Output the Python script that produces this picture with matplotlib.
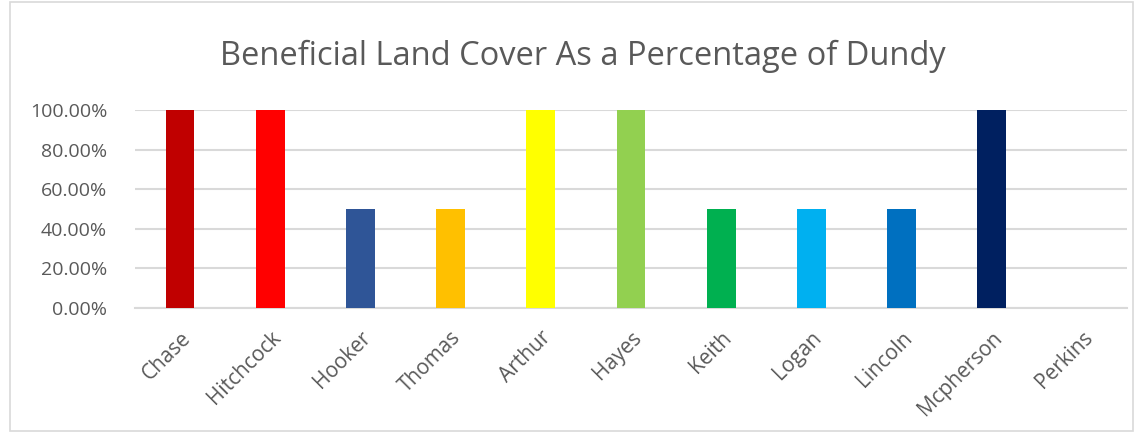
import matplotlib.pyplot as plt
from matplotlib.patches import Rectangle
from matplotlib.ticker import FuncFormatter

# Data
counties = ['Chase', 'Hitchcock', 'Hooker', 'Thomas', 'Arthur', 'Hayes',
            'Keith', 'Logan', 'Lincoln', 'Mcpherson', 'Perkins']
share = [1.0, 1.0, 0.5, 0.5, 1.0, 1.0, 0.5, 0.5, 0.5, 1.0, 0.0]
bar_colors = ['#C00000', '#FF0000', '#2F5597', '#FFC000', '#FFFF00', '#92D050',
              '#00B050', '#00B0F0', '#0070C0', '#002060', '#7F7F7F']

TEXT = '#595959'
GRID = '#D9D9D9'

plt.rcParams['font.family'] = ['Open Sans', 'DejaVu Sans']

fig = plt.figure(figsize=(11.43, 4.33), dpi=100)
ax = fig.add_axes([0.118, 0.289, 0.868, 0.457])

x = range(len(counties))
ax.bar(x, share, width=0.32, color=bar_colors, zorder=3)

ax.set_xlim(-0.5, len(counties) - 0.5)
ax.set_ylim(0, 1.0)
ax.set_yticks([0, 0.2, 0.4, 0.6, 0.8, 1.0])
ax.yaxis.set_major_formatter(FuncFormatter(lambda v, _: f'{v * 100:.2f}%'))
ax.grid(axis='y', color=GRID, linewidth=1.5, zorder=0)
ax.set_axisbelow(True)

ax.set_xticks(list(x))
ax.set_xticklabels(counties, rotation=45, ha='right', rotation_mode='anchor')
ax.tick_params(axis='both', length=0, labelcolor=TEXT)
ax.tick_params(axis='x', pad=14, labelsize=15)
ax.tick_params(axis='y', pad=20, labelsize=14)

for s in ['top', 'right', 'left']:
    ax.spines[s].set_visible(False)
ax.spines['bottom'].set_color(GRID)
ax.spines['bottom'].set_linewidth(1.5)

fig.text(0.51, 0.87, 'Beneficial Land Cover As a Percentage of Dundy',
         ha='center', va='center', fontsize=23.5, color=TEXT)

# light border around the chart area
fig.patches.append(Rectangle((0.009, 0.005), 0.982, 0.99, transform=fig.transFigure,
                             fill=False, edgecolor=GRID, linewidth=1.2))

fig.savefig('out.png', dpi=100, facecolor='white')
